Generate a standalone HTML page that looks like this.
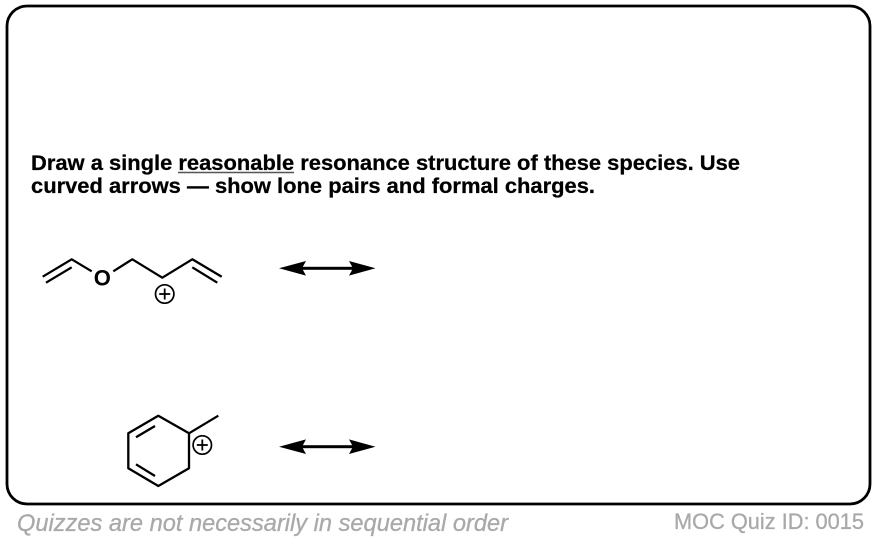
<!DOCTYPE html>
<html>
<head>
<meta charset="utf-8">
<style>
html,body{margin:0;padding:0;background:#fff;}
svg{display:block;}
text{font-family:"Liberation Sans",Arial,sans-serif;}
</style>
</head>
<body>
<svg width="876" height="540" viewBox="0 0 876 540" xmlns="http://www.w3.org/2000/svg">
<rect x="7" y="6" width="863" height="498" rx="20" ry="20" fill="#fff" stroke="#000" stroke-width="2.8"/>

<text x="31" y="170" font-size="21" font-weight="700" fill="#000" stroke="#000" stroke-width="0.25" textLength="709" lengthAdjust="spacingAndGlyphs">Draw a single reasonable resonance structure of these species. Use</text>
<text x="31" y="193" font-size="21" font-weight="700" fill="#000" stroke="#000" stroke-width="0.25" textLength="564" lengthAdjust="spacingAndGlyphs">curved arrows — show lone pairs and formal charges.</text>
<line x1="178" y1="172.5" x2="294" y2="172.5" stroke="#555" stroke-width="1.5"/>

<g stroke="#000" stroke-width="2.3" fill="none" stroke-linecap="butt" stroke-linejoin="round">
  <polyline points="42.7,276.7 71.7,259.3 91.7,271.3"/>
  <line x1="46" y1="282.7" x2="71.7" y2="267.3"/>
  <polyline points="113.3,271.3 132.3,259.3 162.3,277.7 192.3,259.3 221.7,276.7"/>
  <line x1="192.3" y1="267.3" x2="217.3" y2="282.7"/>
  <circle cx="164.7" cy="294" r="9.2" stroke-width="1.7"/>
  <line x1="159.2" y1="294" x2="170.2" y2="294" stroke-width="1.8"/>
  <line x1="164.7" y1="288.5" x2="164.7" y2="299.5" stroke-width="1.8"/>

  <polygon points="158.3,415.7 189,433.3 189,468.3 158.3,486 128.3,468.3 128.3,433.3"/>
  <line x1="189" y1="433.3" x2="218.3" y2="415.7"/>
  <line x1="136" y1="437.3" x2="155" y2="426"/>
  <line x1="136" y1="464.3" x2="155" y2="476"/>
  <circle cx="202.3" cy="445" r="9.2" stroke-width="1.7"/>
  <line x1="196.8" y1="445" x2="207.8" y2="445" stroke-width="1.8"/>
  <line x1="202.3" y1="439.5" x2="202.3" y2="450.5" stroke-width="1.8"/>
</g>
<text x="102.3" y="285.5" font-size="22" font-weight="700" text-anchor="middle" fill="#000">O</text>

<g fill="#000" stroke="none">
  <rect x="295" y="266.8" width="70" height="3"/>
  <polygon points="279,268.3 306,261 302,268.3 306,275.6"/>
  <polygon points="375.5,268.3 349,261 353,268.3 349,275.6"/>
  <rect x="295" y="445.2" width="70" height="3"/>
  <polygon points="279,446.7 306,439.4 302,446.7 306,454"/>
  <polygon points="375.5,446.7 349,439.4 353,446.7 349,454"/>
</g>

<text x="17" y="531" font-size="24" font-style="italic" fill="#a9a9a9" stroke="#a9a9a9" stroke-width="0.3" textLength="491" lengthAdjust="spacingAndGlyphs">Quizzes are not necessarily in sequential order</text>
<text x="674" y="529" font-size="22.5" fill="#a9a9a9" stroke="#a9a9a9" stroke-width="0.3" textLength="190" lengthAdjust="spacingAndGlyphs">MOC Quiz ID: 0015</text>
</svg>
</body>
</html>
